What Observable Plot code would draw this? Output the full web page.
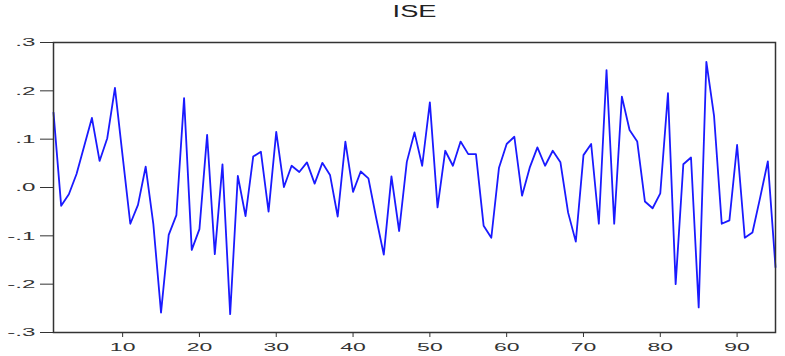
<!DOCTYPE html>
<html>
<head>
<meta charset="utf-8">
<script src="https://cdn.jsdelivr.net/npm/d3@7"></script>
<script src="https://cdn.jsdelivr.net/npm/@observablehq/plot@0.6"></script>
<style>
  html, body { margin: 0; padding: 0; background: #fff; }
</style>
</head>
<body>
<div id="chart"></div>
<script>
const title = "ISE";
const values = [
  0.155, -0.038, -0.014, 0.028, 0.086, 0.144, 0.055, 0.102, 0.206, 0.065,
  -0.075, -0.036, 0.043, -0.076, -0.259, -0.098, -0.057, 0.185, -0.129, -0.086,
  0.109, -0.138, 0.048, -0.262, 0.024, -0.059, 0.064, 0.074, -0.050, 0.115,
  0.001, 0.045, 0.032, 0.052, 0.008, 0.051, 0.026, -0.060, 0.095, -0.009,
  0.033, 0.019, -0.062, -0.139, 0.023, -0.090, 0.053, 0.114, 0.045, 0.176,
  -0.041, 0.076, 0.045, 0.095, 0.069, 0.069, -0.079, -0.104, 0.041, 0.090,
  0.105, -0.017, 0.041, 0.083, 0.045, 0.076, 0.052, -0.052, -0.112, 0.067,
  0.090, -0.075, 0.243, -0.075, 0.188, 0.119, 0.095, -0.029, -0.043, -0.012,
  0.195, -0.200, 0.048, 0.062, -0.248, 0.260, 0.148, -0.075, -0.068, 0.088,
  -0.104, -0.093, -0.021, 0.054, -0.165
];
const obs = values.map((_, i) => i + 1);
const xTicks = [10, 20, 30, 40, 50, 60, 70, 80, 90];
const yTicks = [-0.3, -0.2, -0.1, 0.0, 0.1, 0.2, 0.3];
const yTickLabels = ["-.3", "-.2", "-.1", ".0", ".1", ".2", ".3"];

const data = obs.map((o, i) => ({obs: o, value: values[i]}));

const chart = Plot.plot({
  width: 785,
  height: 356,
  marginLeft: 53,
  marginRight: 10,
  marginTop: 42,
  marginBottom: 24,
  style: {fontFamily: "'Liberation Sans', Arial, sans-serif", fontSize: "11.5px", color: "#333", background: "#fff"},
  x: {domain: [1, 95], ticks: xTicks, tickSize: 5, tickPadding: 5, label: null, tickFormat: d => String(d)},
  y: {domain: [-0.3, 0.3], ticks: yTicks, tickSize: 13, tickPadding: 5, label: null,
      tickFormat: d => yTickLabels[yTicks.findIndex(t => Math.abs(t - d) < 1e-9)]},
  marks: [
    Plot.line(data, {x: "obs", y: "value", stroke: "#1a1aff", strokeWidth: 1.8}),
    Plot.frame({stroke: "#333", strokeWidth: 1.5}),
    Plot.text([title], {frameAnchor: "top", dy: -31, lineAnchor: "middle", text: d => d, fontSize: 16, fill: "#222"})
  ]
});
document.getElementById("chart").appendChild(chart);

// Stretch text horizontally like the reference rendering
function stretch(sel, factor) {
  chart.querySelectorAll(sel).forEach(t => {
    const len = t.getComputedTextLength();
    if (len > 0) {
      t.setAttribute("textLength", (len * factor).toFixed(2));
      t.setAttribute("lengthAdjust", "spacingAndGlyphs");
    }
  });
}
stretch("g[aria-label='x-axis tick label'] text", 2.0);
stretch("g[aria-label='y-axis tick label'] text", 2.1);
stretch("g[aria-label='text'] text", 1.7);
</script>
</body>
</html>
